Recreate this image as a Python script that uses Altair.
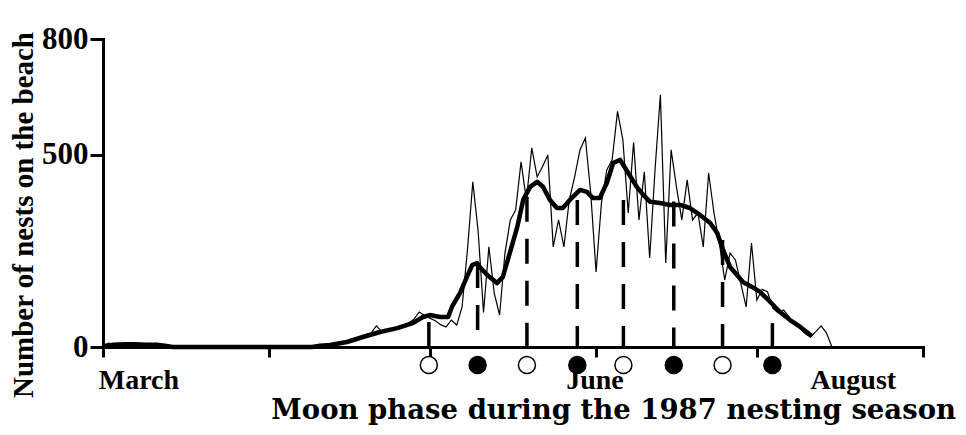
import altair as alt
import pandas as pd

# ---------------- data ----------------
# daily nest counts, day 0 = 1 March
thin_vals = (
    [0, 10, 6, 5, 7, 6, 5, 6, 5, 5, 4, 2]
    + [0] * 27
    + [2, 3, 5, 6, 9, 12, 14, 18, 22, 27, 32, 36, 55, 40, 43, 48, 52, 56, 62, 72,
       91, 82, 75, 68, 58, 52, 70, 57]
    + [104, 252, 429, 300, 90, 260, 140, 83, 244, 330,
       356, 481, 382, 517, 442, 468, 499, 260, 330, 260,
       382, 442, 512, 543, 400, 195, 374, 460, 486, 612,
       538, 348, 532, 330, 455, 231, 460, 655, 218, 512,
       416, 330, 434, 330, 348, 260, 452, 348, 270, 174,
       244, 226, 166, 104, 270, 122, 150, 143, 100, 88,
       96, 78, 60, 49, 35, 26, 40, 55, 36, 0]
)
thin_days = list(range(len(thin_vals)))

# smoothed (running mean) curve
smooth_days = [0, 2, 4, 6, 8, 10, 11.5, 13, 39, 40.5, 42.4, 45.5, 48.5, 51.7, 54.9, 57.8,
               59.7, 61.0, 62.9, 64.4, 65.1, 66.6, 67.9, 68.9, 69.8, 70.3, 71.7, 73.5,
               74.6, 75.9, 77.3, 78.4, 79.7, 81.0, 82.1, 83.4, 84.7, 85.8, 87.1, 89.0,
               90.3, 91.4, 92.7, 94.0, 95.2, 96.5, 98.0, 99.6, 100.8, 102.1, 103.9,
               105.8, 107.7, 109.5, 111.4, 113.3, 114.6, 115.7, 117.0, 118.3, 119.4,
               121.1, 122.6, 124.5, 126.3, 128.2, 130.1, 132.3]
smooth_vals = [2, 6, 7, 7, 6, 6, 3, 0, 0, 3, 5, 13, 26, 39, 49, 62, 78, 83, 78, 78, 104,
               140, 182, 213, 218, 208, 187, 166, 182, 244, 312, 382, 416, 429, 416, 382,
               361, 361, 382, 408, 403, 387, 387, 426, 478, 486, 452, 416, 395, 377, 374,
               369, 369, 361, 343, 322, 296, 252, 208, 187, 169, 156, 143, 117, 91, 70,
               52, 28]

# moon phases (open = full moon, filled = new moon)
moon_days = [60.8, 69.9, 79.1, 88.5, 97.1, 106.5, 115.6, 124.9]
moon_phase = ["full", "new", "full", "new", "full", "new", "full", "new"]
moon_tops = [65, 218, 390, 382, 382, 378, 278, 62]

month_ticks = [0, 31, 61, 92, 122, 153]
month_labels = ["March", "June", "August"]
month_label_pos = [6.7, 91.8, 140.0]
y_ticks = [0, 500, 800]

y_title = "Number of nests on the beach"
x_title = "Moon phase during the 1987 nesting season"

FONT = "Liberation Serif"
TITLE_FONT = "DejaVu Serif"

# ---------------- chart ----------------
thin_df = pd.DataFrame({"day": thin_days, "n": thin_vals})
smooth_df = pd.DataFrame({"day": smooth_days, "n": smooth_vals})
moon_df = pd.DataFrame({"day": moon_days, "phase": moon_phase, "n": moon_tops,
                        "zero": [0] * len(moon_days)})
month_df = pd.DataFrame({"day": month_label_pos, "label": month_labels})

xscale = alt.Scale(domain=[0, 153], nice=False, zero=False)
yscale = alt.Scale(domain=[0, 800], nice=False)

x_axis = alt.Axis(values=month_ticks, labels=False, title=None, tickSize=10, tickWidth=3,
                  domainWidth=3, domainColor="black", tickColor="black", grid=False,
                  domainCap="square")
y_axis = alt.Axis(values=y_ticks, title=None, tickSize=13, tickWidth=3, domainWidth=3,
                  domainColor="black", tickColor="black", grid=False,
                  labelFont=FONT, labelFontSize=31, labelFontWeight="bold",
                  labelColor="black", labelPadding=2, domainCap="square")


def X():
    return alt.X("day:Q", scale=xscale, axis=x_axis)


def Y():
    return alt.Y("n:Q", scale=yscale, axis=y_axis)


thin = alt.Chart(thin_df).mark_line(color="black", strokeWidth=1.2).encode(
    x=X(), y=Y())

thick = alt.Chart(smooth_df).mark_line(color="black", strokeWidth=4.5,
                                       strokeJoin="round").encode(x=X(), y=Y())

rules = alt.Chart(moon_df).mark_rule(color="black", strokeWidth=3.5,
                                     strokeDash=[25, 17], strokeCap="butt").encode(
    x=X(), y=Y(), y2="zero:Q")

moons = alt.Chart(moon_df).mark_point(shape="circle", size=290, filled=True,
                                      stroke="black", strokeWidth=1.5,
                                      opacity=1).encode(
    x=X(),
    y=alt.value(326),
    fill=alt.Fill("phase:N", scale=alt.Scale(domain=["full", "new"],
                                             range=["white", "black"]), legend=None),
)

months = alt.Chart(month_df).mark_text(font=FONT, fontSize=28, fontWeight="bold",
                                       color="black", baseline="alphabetic",
                                       align="center").encode(
    x=X(), y=alt.value(350), text="label:N")

xtitle = alt.Chart(pd.DataFrame({"t": [x_title]})).mark_text(
    font=TITLE_FONT, fontSize=27.5, fontWeight="bold", color="black",
    baseline="alphabetic", align="right").encode(
    x=alt.value(853), y=alt.value(380), text="t:N")

ytitle = alt.Chart(pd.DataFrame({"t": [y_title]})).mark_text(
    font=FONT, fontSize=29, fontWeight="bold", color="black",
    baseline="middle", align="center", angle=270).encode(
    x=alt.value(-79), y=alt.value(176), text="t:N")

chart = alt.layer(thin, thick, rules, moons, months, xtitle, ytitle).properties(
    width=820, height=308,
    autosize=alt.AutoSizeParams(type="none"),
    padding={"left": 95, "top": 31, "right": 35, "bottom": 80},
    background="white",
).configure_view(stroke=None)

chart.save("out.html", embed_options={"renderer": "svg", "actions": False})
